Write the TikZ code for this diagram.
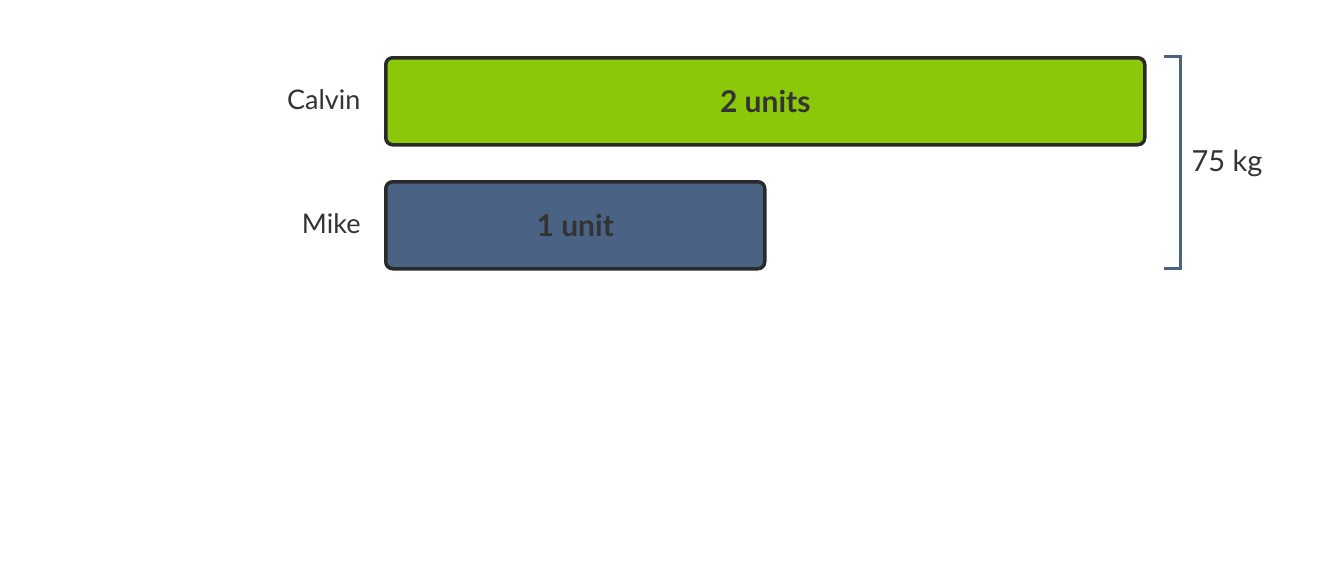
\documentclass[tikz,border=0pt]{standalone}
\usepackage{fontspec}
\setmainfont{Lato}
\definecolor{barGreen}{HTML}{8BC80A}
\definecolor{barBlue}{HTML}{4A6385}
\definecolor{edge}{HTML}{2A2A2A}
\definecolor{txt}{HTML}{333333}
\begin{document}
\begin{tikzpicture}[x=1pt,y=-1pt,
  bar/.style={draw=edge,line width=3.5pt,rounded corners=7pt,anchor=north west,inner sep=0pt,
    font=\fontsize{30}{36}\selectfont\bfseries,text=txt},
  name label/.style={anchor=east,font=\fontsize{27}{32}\selectfont,text=txt},
  brace/.style={draw=barBlue,line width=3pt}]
\useasboundingbox (0,0) rectangle (1328,568);
\node[bar,fill=barGreen,minimum width=759pt,minimum height=87pt] (calvin) at (384,56) {2 units};
\node[bar,fill=barBlue,minimum width=379pt,minimum height=87pt] (mike) at (384,180) {1 unit};
\node[name label] (lc) at (364,100) {Calvin};
\node[name label] (lm) at (364,224) {Mike};
\coordinate (t0) at (1164,56);
\coordinate (t1) at (1180,56);
\coordinate (b1) at (1180,268);
\coordinate (b0) at (1164,268);
\draw[brace] (t0) -- (t1) -- (b1) -- (b0);
\node[anchor=west,font=\fontsize{29}{34}\selectfont,text=txt] (total) at (1188,163) {75 kg};
\end{tikzpicture}
\end{document}
